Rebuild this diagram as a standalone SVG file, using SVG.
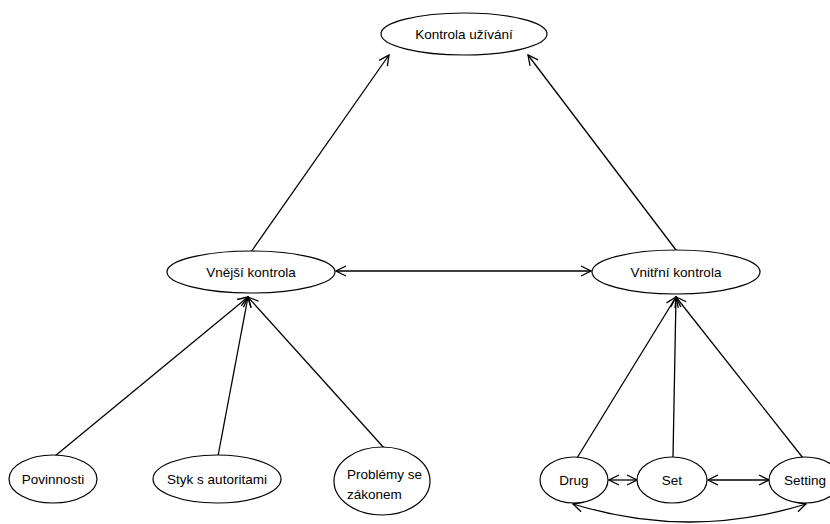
<svg xmlns="http://www.w3.org/2000/svg" width="830" height="524" viewBox="0 0 830 524">
<defs>
<marker id="arr" viewBox="0 0 12 12" refX="11" refY="6" markerWidth="12" markerHeight="12" markerUnits="userSpaceOnUse" orient="auto-start-reverse">
<path d="M1,1 L11,6 L1,11" fill="none" stroke="#000" stroke-width="1.3"/>
</marker>
</defs>
<style>
.n ellipse{fill:#fff;stroke:#000;stroke-width:1.2}
.n text{font-family:"Liberation Sans",Arial,sans-serif;font-size:13.5px;text-anchor:middle;fill:#000}
.n text.l{text-anchor:start}
.c line,.c path{stroke:#000;stroke-width:1.3;fill:none}
</style>
<rect width="830" height="524" fill="#fff"/>
<g class="c" id="connectors">
<line x1="251" y1="252" x2="389" y2="55" marker-end="url(#arr)"/>
<line x1="676" y1="250" x2="528" y2="55" marker-end="url(#arr)"/>
<line x1="336" y1="271" x2="591" y2="271" marker-start="url(#arr)" marker-end="url(#arr)"/>
<line x1="55" y1="456" x2="248" y2="297" marker-end="url(#arr)"/>
<line x1="218" y1="456" x2="248" y2="297" marker-end="url(#arr)"/>
<line x1="385" y1="449" x2="248" y2="297" marker-end="url(#arr)"/>
<line x1="577" y1="458" x2="676" y2="297" marker-end="url(#arr)"/>
<line x1="673" y1="457" x2="676" y2="297" marker-end="url(#arr)"/>
<line x1="803" y1="458" x2="676" y2="297" marker-end="url(#arr)"/>
<line x1="609" y1="480" x2="637" y2="480" marker-start="url(#arr)" marker-end="url(#arr)"/>
<line x1="708" y1="480" x2="769" y2="480" marker-start="url(#arr)" marker-end="url(#arr)"/>
<path d="M573,504 Q690,540 806,504" marker-start="url(#arr)" marker-end="url(#arr)"/>
</g>
<g class="n" id="kontrola-uzivani"><ellipse cx="464" cy="34" rx="83" ry="21"/><text x="464" y="39">Kontrola užívání</text></g>
<g class="n" id="vnejsi-kontrola"><ellipse cx="251" cy="272" rx="84" ry="21"/><text x="251" y="277">Vnější kontrola</text></g>
<g class="n" id="vnitrni-kontrola"><ellipse cx="676" cy="272" rx="84" ry="22"/><text x="676" y="277">Vnitřní kontrola</text></g>
<g class="n" id="povinnosti"><ellipse cx="53" cy="479" rx="44" ry="24"/><text x="53" y="484">Povinnosti</text></g>
<g class="n" id="styk"><ellipse cx="217" cy="479" rx="64" ry="24"/><text x="217" y="484">Styk s autoritami</text></g>
<g class="n" id="problemy"><ellipse cx="382" cy="481" rx="48" ry="34"/><text class="l" x="347" y="479">Problémy se</text><text class="l" x="347" y="499">zákonem</text></g>
<g class="n" id="drug"><ellipse cx="574" cy="480" rx="34" ry="23"/><text x="574" y="485">Drug</text></g>
<g class="n" id="set"><ellipse cx="672" cy="480" rx="35" ry="23"/><text x="672" y="485">Set</text></g>
<g class="n" id="setting"><ellipse cx="805" cy="480" rx="36" ry="23"/><text x="805" y="485">Setting</text></g>
</svg>
